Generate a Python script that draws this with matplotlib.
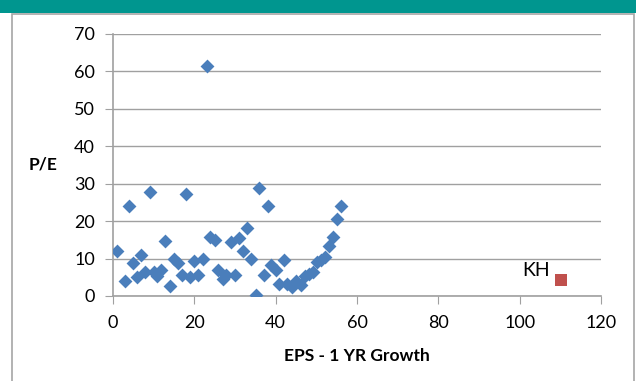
import matplotlib
matplotlib.use("Agg")
import matplotlib.pyplot as plt
from matplotlib.patches import Rectangle

# peer companies: EPS 1 yr growth vs P/E
eps_growth = [0.9, 2.9, 4.0, 4.9, 5.8, 7.0, 7.9, 9.0, 10.1, 10.9, 11.9, 12.8,
              14.1, 14.9, 15.9, 16.9, 17.9, 19.0, 19.8, 21.0, 22.1, 23.0, 23.8,
              25.1, 25.9, 27.1, 27.9, 28.9, 30.0, 31.0, 32.0, 33.0, 34.0, 35.2,
              35.9, 37.1, 38.0, 38.9, 40.2, 40.9, 42.1, 42.9, 44.0, 45.1, 46.2,
              47.2, 48.1, 49.1, 50.1, 51.1, 52.1, 53.1, 54.1, 55.1, 56.0]
pe = [12.1, 3.9, 24.1, 8.7, 5.1, 10.9, 6.4, 27.9, 6.3, 5.4, 6.9, 14.7,
      2.6, 10.0, 8.7, 5.7, 27.2, 5.1, 9.3, 5.7, 9.8, 61.4, 15.7,
      14.9, 7.0, 4.5, 5.5, 14.3, 5.7, 15.6, 12.0, 18.2, 10.0, 0.4,
      28.8, 5.7, 24.1, 8.4, 6.9, 3.2, 9.5, 3.3, 2.3, 3.9, 3.0,
      5.4, 5.9, 6.4, 9.1, 9.6, 10.5, 13.4, 15.7, 20.5, 24.1]

kh_growth = [110.2]
kh_pe = [4.3]

plt.rcParams['font.family'] = ['Lato', 'DejaVu Sans']

fig = plt.figure(figsize=(6.36, 3.81), dpi=100)
fig.patch.set_facecolor("white")

# teal header bar and chart frame
fig.patches.append(Rectangle((0, 1 - 13/381), 1, 13/381, transform=fig.transFigure,
                             facecolor="#00968f", edgecolor="none", zorder=0))
fig.patches.append(Rectangle((12/636, -0.05), (634-12)/636, 1.05 - 13/381 - 0.002,
                             transform=fig.transFigure, facecolor="none",
                             edgecolor="#a6a6a6", linewidth=1.2, zorder=0))

ax = fig.add_axes([113/636, 1 - 296/381, (601-113)/636, (296-34)/381])

ax.scatter(eps_growth, pe, marker="D", s=50, color="#4a7ebb", zorder=3, linewidths=0)
ax.scatter(kh_growth, kh_pe, marker="s", s=75, color="#c0504d", zorder=3, linewidths=0)
ax.annotate("KH", (kh_growth[0], kh_pe[0]), xytext=(-28, 1), textcoords="offset points",
            fontsize=14, color="black", va="bottom")

ax.set_xlim(0, 120)
ax.set_ylim(0, 70)
ax.set_xticks(range(0, 121, 20))
ax.set_yticks(range(0, 71, 10))
ax.grid(axis="y", color="#a0a0a0", linewidth=1)
ax.set_axisbelow(True)

for s in ["top", "right"]:
    ax.spines[s].set_visible(False)
for s in ["left", "bottom"]:
    ax.spines[s].set_color("#a0a0a0")
    ax.spines[s].set_linewidth(1.2)
ax.tick_params(direction="out", length=6, color="#a0a0a0", labelsize=13)
ax.tick_params(axis="x", pad=8)
ax.tick_params(axis="y", pad=7)

ax.set_xlabel("EPS - 1 YR Growth", fontsize=12.5, fontweight="bold", labelpad=12)
ax.set_ylabel("P/E", fontsize=12.5, fontweight="bold", rotation=0, labelpad=22, va="center")

fig.savefig("out.png", dpi=100)
